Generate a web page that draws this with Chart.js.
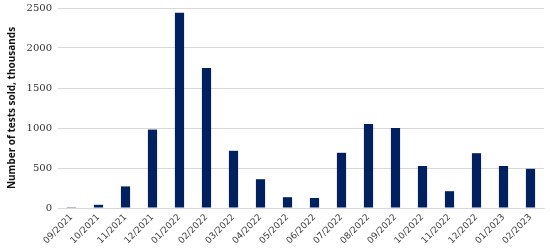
<!DOCTYPE html>
<html>
<head>
<meta charset="utf-8">
<script src="https://cdn.jsdelivr.net/npm/chart.js@4/dist/chart.umd.min.js"></script>
<style>
  html, body { margin: 0; padding: 0; background: #fff; }
  #wrap { width: 550px; height: 252px; }
</style>
</head>
<body>
<div id="wrap"><canvas id="tests"></canvas></div>
<script>
// months and tests sold (thousands)
var months = ['09/2021', '10/2021', '11/2021', '12/2021', '01/2022', '02/2022', '03/2022', '04/2022', '05/2022',
              '06/2022', '07/2022', '08/2022', '09/2022', '10/2022', '11/2022', '12/2022', '01/2023', '02/2023'];
var testsSold = [10, 40, 270, 980, 2440, 1750, 715, 360, 135, 125, 690, 1050, 1000, 525, 210, 685, 525, 490];
var yTicks = [0, 500, 1000, 1500, 2000, 2500];

var testsChart = new Chart(document.getElementById('tests'), {
    type: 'bar',
    data: {
        labels: months,
        datasets: [{
            data: testsSold,
            backgroundColor: '#002060',
            barPercentage: 0.34,
            categoryPercentage: 1.0
        }]
    },
    options: {
        responsive: true,
        maintainAspectRatio: false,
        animation: false,
        layout: { padding: { top: 0, right: 6, left: 0 } },
        plugins: {
            legend: { display: false },
            tooltip: { enabled: false }
        },
        scales: {
            x: {
                grid: { display: false, drawTicks: false },
                border: { color: '#d9d9d9' },
                ticks: {
                    minRotation: 45,
                    maxRotation: 45,
                    padding: 4,
                    color: '#404040',
                    font: { family: 'DejaVu Sans', size: 9 }
                },
                afterFit: function (scale) { scale.height = 44; }
            },
            y: {
                min: 0,
                max: 2500,
                afterBuildTicks: function (scale) {
                    scale.ticks = yTicks.map(function (v) { return { value: v }; });
                },
                grid: { color: '#d9d9d9', drawTicks: false },
                border: { display: false },
                ticks: {
                    padding: 6,
                    color: '#333',
                    font: { family: 'DejaVu Serif', size: 10 },
                    callback: function (value) { return String(value); }
                },
                title: {
                    display: true,
                    text: 'Number of tests sold, thousands',
                    color: '#111',
                    padding: { top: 6, bottom: 4 },
                    font: { family: 'Open Sans', size: 10, weight: 'bold' }
                },
                afterFit: function (scale) {
                    scale.width = 58;
                    scale.paddingTop = 8;
                    scale.paddingBottom = 6;
                }
            }
        }
    }
});
</script>
</body>
</html>
